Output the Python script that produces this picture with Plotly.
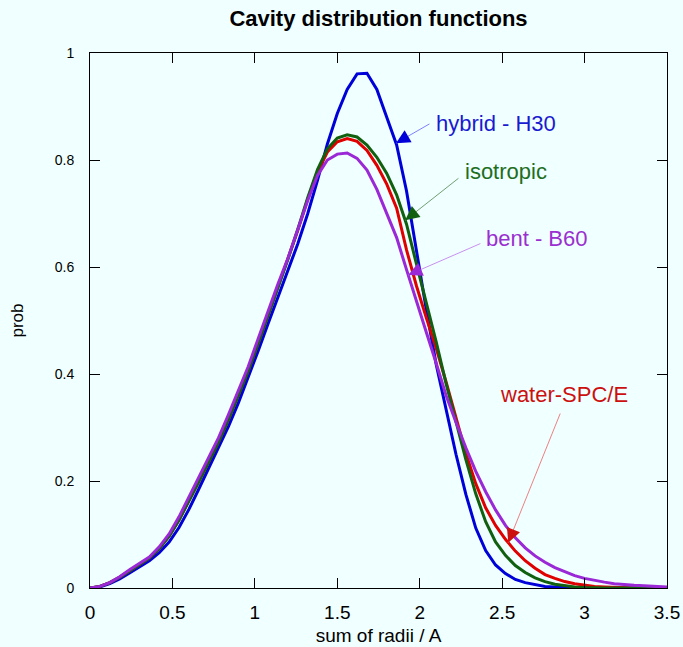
import numpy as np
import plotly.graph_objects as go

# ---------------- data ----------------
radii = [0.00, 0.06, 0.12, 0.18, 0.24, 0.30, 0.36, 0.42, 0.48, 0.54,
         0.60, 0.66, 0.72, 0.78, 0.84, 0.90, 0.96, 1.02, 1.08, 1.14,
         1.20, 1.26, 1.32, 1.38, 1.44, 1.50, 1.56, 1.62, 1.68, 1.74,
         1.80, 1.86, 1.92, 1.98, 2.04, 2.10, 2.16, 2.22, 2.28, 2.34,
         2.40, 2.46, 2.52, 2.58, 2.64, 2.70, 2.76, 2.82, 2.88, 2.94,
         3.00, 3.06, 3.12, 3.18, 3.24, 3.30, 3.36, 3.42, 3.48, 3.54]

hybrid_h30 = [0.000, 0.002, 0.008, 0.017, 0.028, 0.039, 0.051, 0.066, 0.086, 0.113,
              0.147, 0.185, 0.223, 0.261, 0.302, 0.346, 0.393, 0.443, 0.494, 0.545,
              0.594, 0.643, 0.699, 0.762, 0.830, 0.887, 0.932, 0.961, 0.962, 0.932,
              0.880, 0.828, 0.742, 0.630, 0.520, 0.418, 0.335, 0.250, 0.175, 0.112,
              0.070, 0.043, 0.027, 0.016, 0.010, 0.006, 0.003, 0.002, 0.001, 0.000,
              0.000, 0.000, 0.000, 0.000, 0.000, 0.000, 0.000, 0.000, 0.000, 0.000]

water_spce = [0.000, 0.003, 0.010, 0.020, 0.032, 0.044, 0.056, 0.074, 0.097, 0.127,
              0.162, 0.199, 0.236, 0.273, 0.315, 0.360, 0.406, 0.457, 0.509, 0.561,
              0.613, 0.668, 0.726, 0.778, 0.815, 0.834, 0.840, 0.835, 0.818, 0.790,
              0.755, 0.710, 0.632, 0.565, 0.505, 0.448, 0.385, 0.318, 0.252, 0.195,
              0.150, 0.117, 0.091, 0.069, 0.051, 0.037, 0.025, 0.018, 0.012, 0.008,
              0.005, 0.003, 0.002, 0.001, 0.000, 0.000, 0.000, 0.000, 0.000, 0.000]

isotropic = [0.000, 0.003, 0.010, 0.020, 0.032, 0.044, 0.056, 0.074, 0.097, 0.127,
             0.162, 0.199, 0.236, 0.273, 0.315, 0.360, 0.406, 0.457, 0.509, 0.561,
             0.614, 0.670, 0.729, 0.782, 0.821, 0.841, 0.847, 0.843, 0.828, 0.805,
             0.775, 0.735, 0.680, 0.606, 0.535, 0.460, 0.382, 0.310, 0.240, 0.176,
             0.124, 0.086, 0.061, 0.042, 0.029, 0.019, 0.012, 0.007, 0.004, 0.002,
             0.001, 0.000, 0.000, 0.000, 0.000, 0.000, 0.000, 0.000, 0.000, 0.000]

bent_b60 = [0.000, 0.003, 0.010, 0.021, 0.034, 0.046, 0.058, 0.077, 0.101, 0.133,
            0.170, 0.207, 0.244, 0.281, 0.324, 0.368, 0.414, 0.466, 0.518, 0.568,
            0.616, 0.670, 0.724, 0.771, 0.800, 0.811, 0.813, 0.803, 0.781, 0.745,
            0.700, 0.655, 0.595, 0.535, 0.478, 0.420, 0.360, 0.310, 0.262, 0.218,
            0.180, 0.146, 0.117, 0.094, 0.075, 0.060, 0.048, 0.038, 0.030, 0.023,
            0.018, 0.014, 0.011, 0.008, 0.006, 0.005, 0.004, 0.003, 0.002, 0.001]

x_ticks = [0, 0.5, 1, 1.5, 2, 2.5, 3, 3.5]
y_ticks = [0, 0.2, 0.4, 0.6, 0.8, 1]

# ---------------- styling ----------------
BG = "#f0ffff"
FONT = "Liberation Sans, Arial, sans-serif"

series = [
    ("hybrid - H30", hybrid_h30, "#0000d8"),
    ("water-SPC/E", water_spce, "#e00000"),
    ("isotropic", isotropic, "#106010"),
    ("bent - B60", bent_b60, "#9a28d6"),
]

fig = go.Figure()
for name, vals, col in series:
    fig.add_trace(go.Scatter(x=radii, y=vals, mode="lines", name=name,
                             line=dict(color=col, width=3), showlegend=False,
                             cliponaxis=True))

# label annotations: (text, series values, tip x, tail x, tail y, text x, text y, text colour, line colour, head colour)
labels = [
    ("hybrid - H30", hybrid_h30, 1.856, 2.068, 0.869, 2.462, 0.869, "#1a1ad0", "#8080ff", "#0000d8"),
    ("isotropic", isotropic, 1.912, 2.244, 0.768, 2.525, 0.779, "#1e6e1e", "#70a070", "#106010"),
    ("bent - B60", bent_b60, 1.93, 2.377, 0.645, 2.71, 0.654, "#9a30d0", "#c890f0", "#9a28d6"),
    ("water-SPC/E", water_spce, 2.537, 2.856, 0.329, 2.874, 0.362, "#cc1010", "#f08080", "#cc1010"),
]

px_per_x = 577 / 3.5
px_per_y = 535 / 1.0

annotations = []
for text, vals, tipx, tailx, taily, tx, ty, tcol, lcol, hcol in labels:
    tipy = float(np.interp(tipx, radii, vals))
    annotations.append(dict(x=tx, y=ty, xref="x", yref="y", text=text,
                            showarrow=False, font=dict(size=22, color=tcol, family=FONT)))
    annotations.append(dict(x=tipx, y=tipy, ax=tailx, ay=taily, xref="x", yref="y",
                            axref="x", ayref="y", text="", showarrow=True,
                            arrowhead=0, arrowwidth=1, arrowcolor=lcol))
    # short solid arrow for the head
    dxp = (tailx - tipx) * px_per_x
    dyp = -(taily - tipy) * px_per_y
    L = (dxp ** 2 + dyp ** 2) ** 0.5
    annotations.append(dict(x=tipx, y=tipy, ax=dxp / L * 12, ay=dyp / L * 12,
                            xref="x", yref="y", text="", showarrow=True,
                            arrowhead=2, arrowsize=1.4, arrowwidth=2, arrowcolor=hcol,
                            standoff=0, startstandoff=0))

axis_common = dict(showgrid=False, zeroline=False, showline=True, linecolor="black",
                   linewidth=1, mirror="allticks", ticks="inside", ticklen=10,
                   tickcolor="black", tickwidth=1, automargin=False)

fig.update_layout(
    width=683, height=647,
    margin=dict(l=90, r=16, t=53, b=59, autoexpand=False),
    paper_bgcolor=BG, plot_bgcolor=BG,
    font=dict(family=FONT, color="black"),
    title=dict(text="<b>Cavity distribution functions</b>", x=0.5, xref="paper",
               y=1 - 18 / 647, yref="container", yanchor="middle",
               font=dict(size=22, family=FONT, color="black")),
    xaxis=dict(range=[0, 3.5], tickvals=x_ticks, ticktext=[str(v) for v in x_ticks],
               tickfont=dict(size=19), ticklabelstandoff=7,
               title=dict(text="sum of radii / A", font=dict(size=19), standoff=6),
               **axis_common),
    yaxis=dict(range=[0, 1], tickvals=y_ticks, ticktext=[str(v) for v in y_ticks],
               tickfont=dict(size=14), ticklabelstandoff=12,
               title=dict(text="prob", font=dict(size=17), standoff=26),
               **axis_common),
    annotations=annotations,
)

fig.write_html("out.html")
